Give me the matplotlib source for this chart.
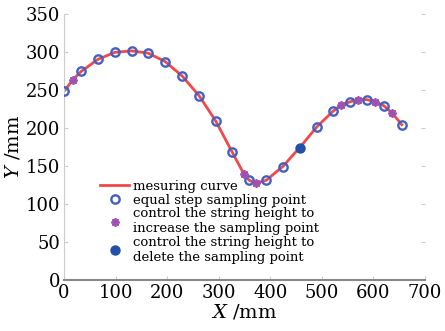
import numpy as np
import matplotlib
matplotlib.use('Agg')
import matplotlib.pyplot as plt

# 等步长采样点
equal_x = [0, 33, 66, 98, 131, 163, 196, 229, 262, 294, 326, 359, 392, 424, 490, 522, 554, 587, 620, 655]
equal_y = [248, 274, 290, 299, 301, 298, 287, 268, 242, 209, 168, 131, 131, 149, 201, 222, 234, 237, 229, 204]

# 增加的采样点
add_x = [17, 349, 372, 538, 571, 604, 637]
add_y = [263, 139, 127, 230, 237, 234, 219]

# 删除的采样点
del_x = [457]
del_y = [174]

xticks = [0, 100, 200, 300, 400, 500, 600, 700]
yticks = [0, 50, 100, 150, 200, 250, 300, 350]

labels = ['mesuring curve',
          'equal step sampling point',
          'control the string height to\nincrease the sampling point',
          'control the string height to\ndelete the sampling point']

# 测量曲线 = 全部点按 x 排序
curve = sorted(zip(equal_x + add_x + del_x, equal_y + add_y + del_y))
curve_x = [p[0] for p in curve]
curve_y = [p[1] for p in curve]

plt.rcParams['font.family'] = ['DejaVu Serif']
plt.rcParams['mathtext.fontset'] = 'dejavuserif'

fig = plt.figure(figsize=(4.45, 3.31), dpi=100)
ax = fig.add_axes([0.144, 0.154, 0.811, 0.805])

l1, = ax.plot(curve_x, curve_y, color='#f24848', lw=2, zorder=2)
p1, = ax.plot(equal_x, equal_y, 'o', ms=6, mfc='none', mec='#4560c0', mew=1.7, zorder=3)
p2, = ax.plot(add_x, add_y, ls='none', marker=(8, 2, 0), ms=6, mec='#a050b0', mew=1.3, zorder=3)
p3, = ax.plot(del_x, del_y, 'o', ms=6.5, color='#2050a8', zorder=3)

ax.set_xlim(0, 700)
ax.set_ylim(0, 350)
ax.set_xticks(xticks)
ax.set_yticks(yticks)
ax.tick_params(direction='in', length=3, color='#cccccc', labelsize=13, pad=3)
ax.tick_params(axis='y', right=True)

for s in ['top', 'right']:
    ax.spines[s].set_visible(False)
ax.spines['left'].set_color('#cccccc')
ax.spines['bottom'].set_color('#888888')
ax.spines['bottom'].set_linewidth(1.5)

ax.set_xlabel('$X$ /mm', fontsize=14, labelpad=0)
ax.set_ylabel('$Y$ /mm', fontsize=14, labelpad=2)

leg = ax.legend([l1, p1, p2, p3], labels, loc='upper left', bbox_to_anchor=(0.1, 0.375),
                frameon=False, fontsize=9.5, labelspacing=0.05, handlelength=2.2,
                handletextpad=0.3, borderpad=0, borderaxespad=0)

plt.savefig('out.png', dpi=100)
